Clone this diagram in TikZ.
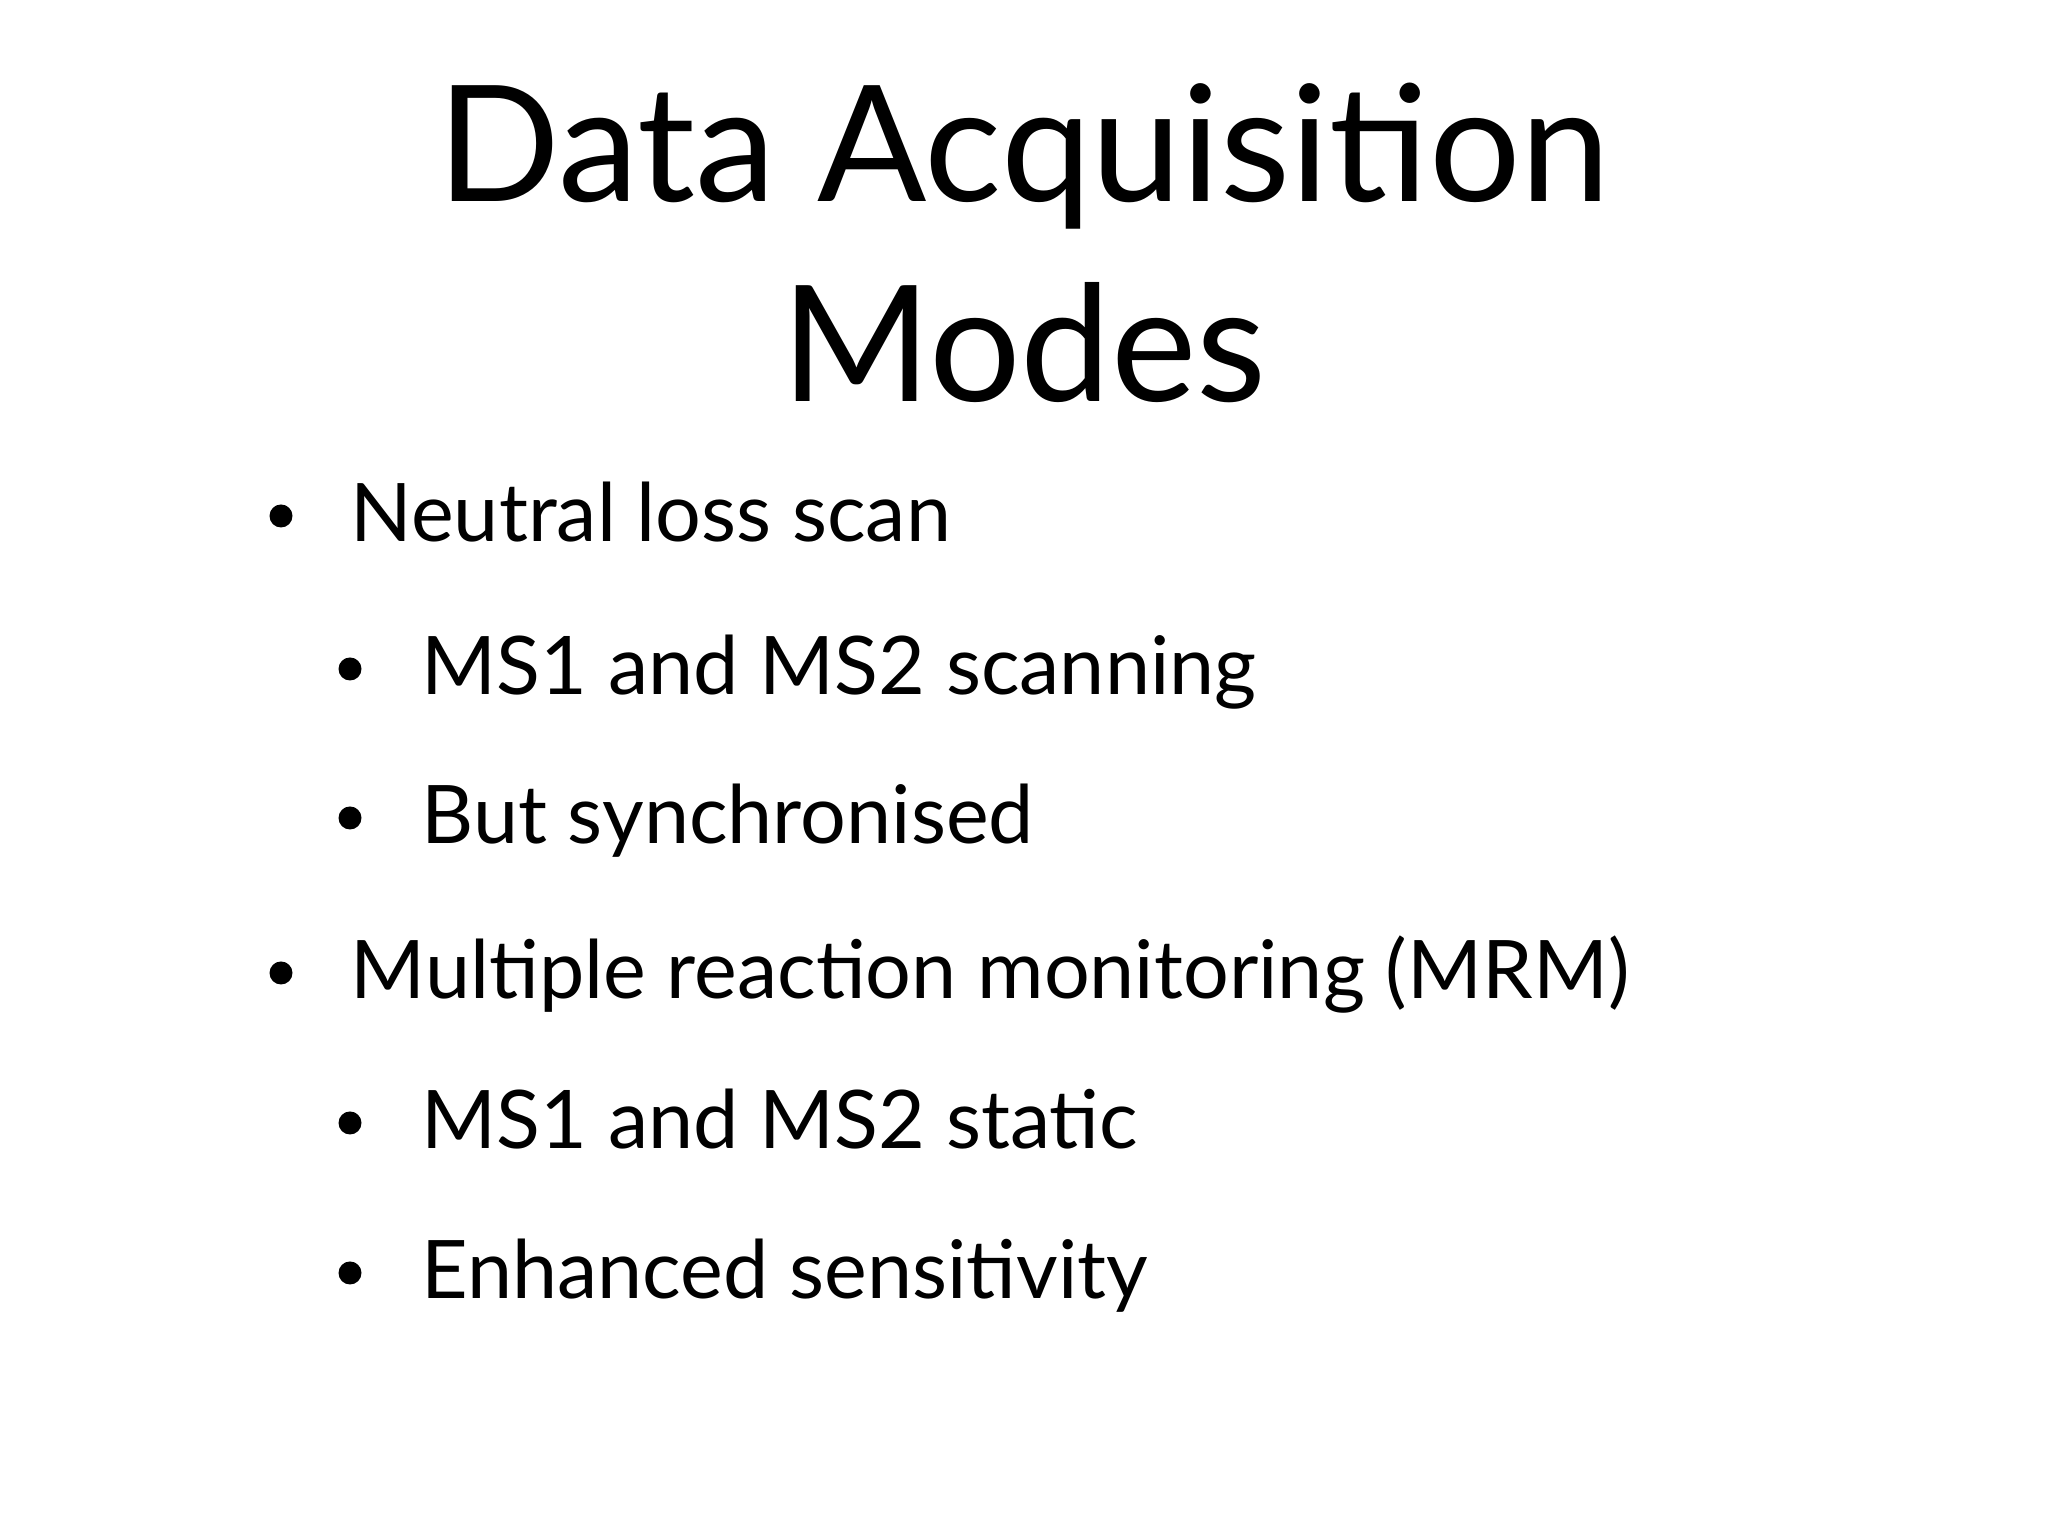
\documentclass[tikz,border=0pt]{standalone}
\usepackage{fontspec}
\setmainfont{Lato}
\begin{document}
\begin{tikzpicture}[x=1cm,y=1cm,
  title/.style={font=\fontsize{46}{50}\selectfont, anchor=base},
  itm/.style={font=\fontsize{23}{27}\selectfont, anchor=base west, inner sep=0pt},
  dot/.style={fill=black, circle, inner sep=0pt, minimum size=0.23cm}]
\useasboundingbox (0,0) rectangle (20.48,15.36);
\node[title] (t1) at (10.24,15.36-2.02) {Data Acquisition};
\node[title] (t2) at (10.24,15.36-4.02) {Modes};
\foreach \n/\lvl/\y/\txt in {a/1/5.42/Neutral loss scan, b/2/6.95/MS1 and MS2 scanning, c/2/8.44/But synchronised, d/1/9.99/Multiple reaction monitoring (MRM), e/2/11.49/MS1 and MS2 static, f/2/12.99/Enhanced sensitivity}{
  \pgfmathsetmacro{\tx}{\lvl==1 ? 3.50 : 4.21}
  \pgfmathsetmacro{\bx}{\lvl==1 ? 2.81 : 3.50}
  \node[itm] (\n) at (\tx,15.36-\y) {\txt};
  \node[dot] (b\n) at (\bx,15.36-\y+0.26) {};
}
\end{tikzpicture}
\end{document}
